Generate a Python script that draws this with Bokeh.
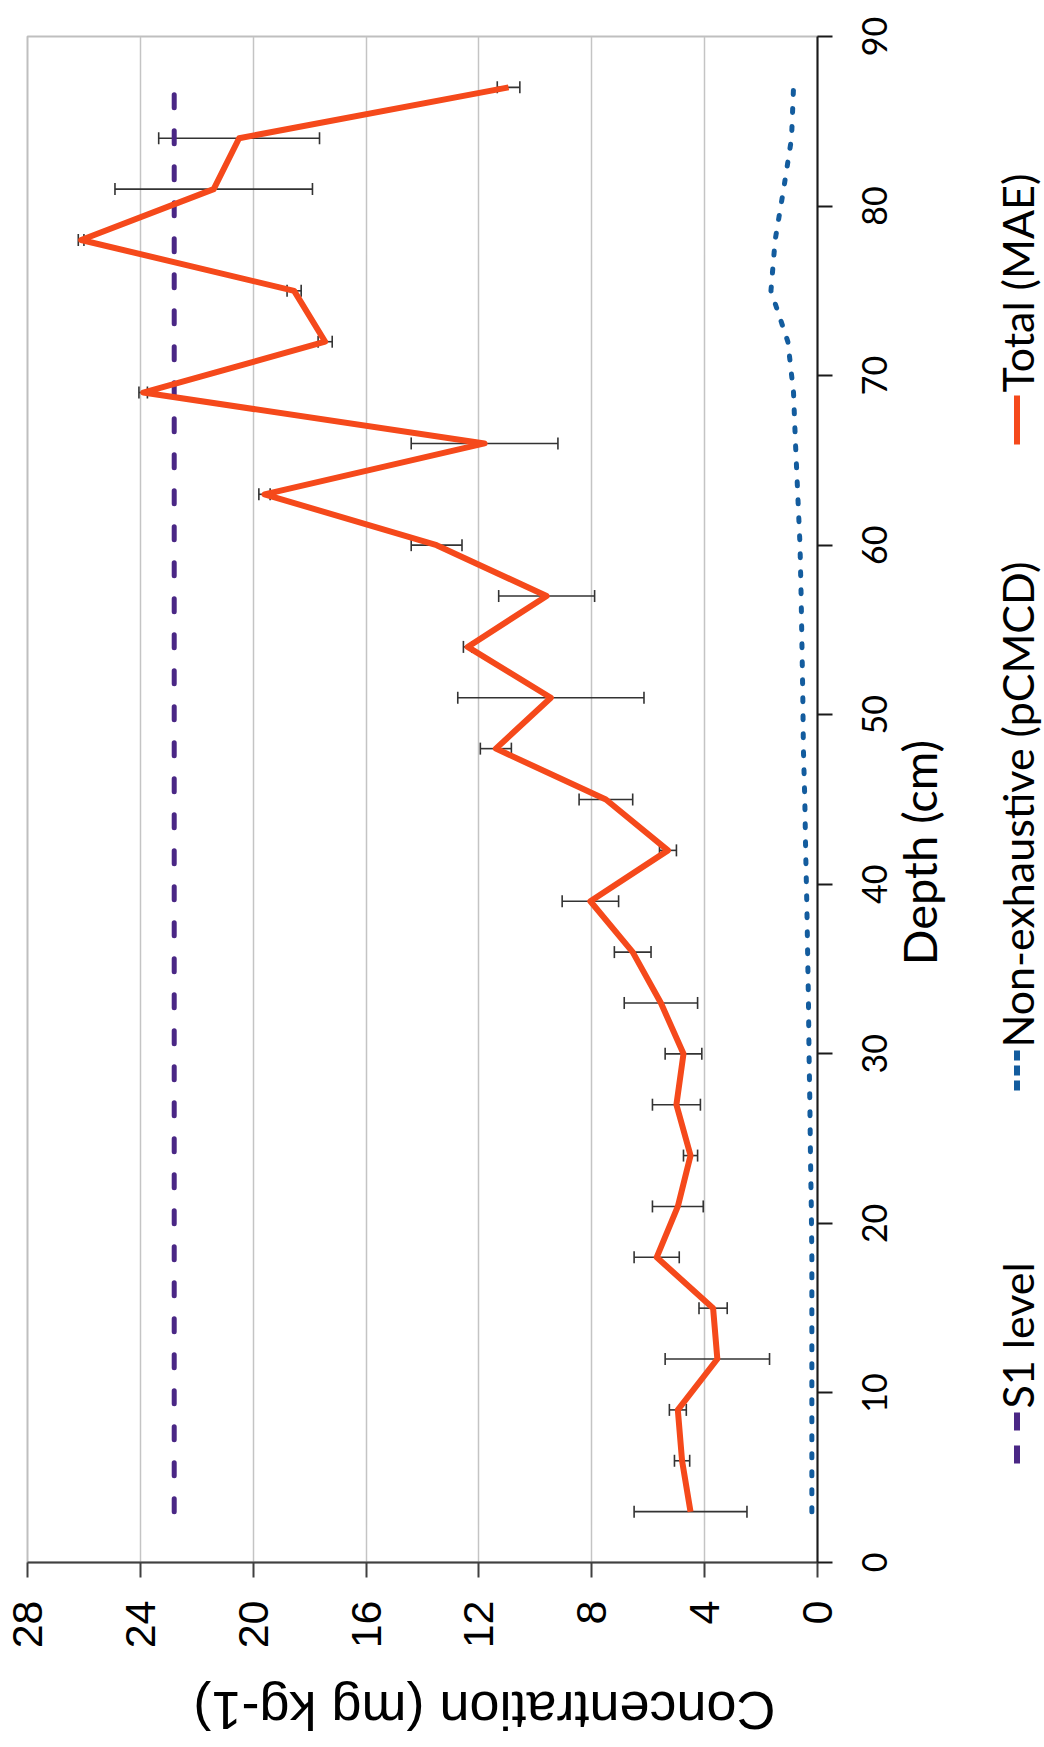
import math
from bokeh.plotting import figure
from bokeh.models import (Range1d, FixedTicker, Whisker, TeeHead, ColumnDataSource, Label)
from bokeh.core.properties import value
from bokeh.layouts import row, column
from bokeh.embed import file_html
from bokeh.resources import INLINE

# ---------------- data ----------------
depth = [3, 6, 9, 12, 15, 18, 21, 24, 27, 30, 33, 36, 39, 42, 45,
         48, 51, 54, 57, 60, 63, 66, 69, 72, 75, 78, 81, 84, 87]
total_mae = [4.5, 4.8, 4.95, 3.55, 3.7, 5.7, 4.95, 4.5, 5.0, 4.75, 5.55, 6.55, 8.05, 5.3, 7.5,
             11.4, 9.45, 12.4, 9.6, 13.5, 19.6, 11.8, 23.9, 17.45, 18.55, 26.1, 21.4, 20.5, 10.95]
total_err = [2.0, 0.27, 0.3, 1.85, 0.5, 0.8, 0.9, 0.25, 0.85, 0.65, 1.3, 0.65, 1.0, 0.3, 0.95,
             0.55, 3.3, 0.15, 1.7, 0.9, 0.2, 2.6, 0.15, 0.25, 0.25, 0.1, 3.5, 2.85, 0.4]
non_exhaustive = [0.2, 0.2, 0.2, 0.2, 0.2, 0.2, 0.22, 0.25, 0.27, 0.3, 0.32, 0.35, 0.38, 0.42, 0.45,
                  0.5, 0.52, 0.55, 0.58, 0.62, 0.7, 0.78, 0.85, 1.05, 1.65, 1.5, 1.2, 0.92, 0.85]
s1_level = [22.8, 22.8, 22.8, 22.8, 22.8, 22.8, 22.8, 22.8, 22.8, 22.8, 22.8, 22.8, 22.8, 22.8, 22.8,
            22.8, 22.8, 22.8, 22.8, 22.8, 22.8, 22.8, 22.8, 22.8, 22.8, 22.8, 22.8, 22.8, 22.8]
conc_ticks = [0, 4, 8, 12, 16, 20, 24, 28]
depth_ticks = [0, 10, 20, 30, 40, 50, 60, 70, 80, 90]
depth_tick_labels = ["0", "10", "20", "30", "40", "50", "60", "70", "80", "90"]

series_names = ["S1 level", "Non-exhaustive (pCMCD)", "Total (MAE)"]
x_title = "Concentration (mg kg-1)"
y_title = "Depth (cm)"

ORANGE = "#F5491B"
BLUE = "#135C9E"
PURPLE = "#4A2785"

src = ColumnDataSource(dict(
    depth=depth, total=total_mae, non=non_exhaustive, s1=s1_level,
    lower=[v - e for v, e in zip(total_mae, total_err)],
    upper=[v + e for v, e in zip(total_mae, total_err)],
))

# ---------------- layout constants (page pixels) ----------------
TOTAL_W, TOTAL_H = 1044, 1747
B_LEFT, B_TOP, B_RIGHT, B_BOTTOM = 27, 36, 32, 108
FRAME_W, FRAME_H = 790, 1526
MAIN_W = B_LEFT + FRAME_W + B_RIGHT
MAIN_H = B_TOP + FRAME_H + B_BOTTOM
Y0, Y1 = 0, 90

# ---------------- main plot ----------------
p = figure(width=MAIN_W, height=MAIN_H, x_range=Range1d(28, 0), y_range=Range1d(Y0, Y1),
           y_axis_location="right", toolbar_location=None, output_backend="svg",
           title=None, min_border_left=B_LEFT, min_border_top=B_TOP,
           min_border_right=B_RIGHT, min_border_bottom=B_BOTTOM)
p.background_fill_color = "white"
p.border_fill_color = "white"
p.outline_line_color = "#bfbfbf"
p.outline_line_width = 2

p.xgrid.ticker = FixedTicker(ticks=conc_ticks)
p.xgrid.grid_line_color = "#c4c4c4"
p.xgrid.grid_line_width = 1.5
p.ygrid.visible = False

xa = p.xaxis[0]
xa.ticker = FixedTicker(ticks=conc_ticks)
xa.major_label_orientation = math.pi / 2
xa.major_label_text_font = "Liberation Sans"
xa.major_label_text_font_size = "43px"
xa.major_label_text_color = "black"
xa.major_label_standoff = 23
xa.axis_line_color = "#404040"
xa.axis_line_width = 2
xa.major_tick_line_color = "#404040"
xa.major_tick_line_width = 2
xa.major_tick_out = 15
xa.major_tick_in = 0
xa.minor_tick_line_color = None

ya = p.yaxis[0]
ya.ticker = FixedTicker(ticks=depth_ticks)
ya.major_label_overrides = {t: "" for t in depth_ticks}
ya.major_label_text_font_size = "1px"
ya.major_label_standoff = 0
ya.axis_line_color = "#1a1a1a"
ya.axis_line_width = 2
ya.major_tick_line_color = "#1a1a1a"
ya.major_tick_line_width = 2
ya.major_tick_out = 15
ya.major_tick_in = 0
ya.minor_tick_line_color = None

wh = Whisker(base="depth", lower="lower", upper="upper", dimension="width", source=src,
             line_color="#333333", line_width=1.6, level="underlay",
             upper_head=TeeHead(size=12, line_color="#333333", line_width=1.6),
             lower_head=TeeHead(size=12, line_color="#333333", line_width=1.6))
p.add_layout(wh)

p.line(x="s1", y="depth", source=src, line_color=PURPLE, line_width=5,
       line_dash="13 23", line_cap="round")
p.line(x="non", y="depth", source=src, line_color=BLUE, line_width=5,
       line_dash="4 14", line_cap="round")
p.line(x="total", y="depth", source=src, line_color=ORANGE, line_width=6,
       line_join="round")


def blank(w, h, xr, yr):
    f = figure(width=w, height=h, x_range=Range1d(*xr), y_range=yr,
               x_axis_location=None, y_axis_location=None, toolbar_location=None,
               output_backend="svg", title=None, min_border=0)
    f.grid.visible = False
    f.outline_line_color = None
    f.background_fill_color = "white"
    f.border_fill_color = "white"
    return f


# ---------------- right strip: depth tick labels, depth title, legend ----------------
side = blank(TOTAL_W - MAIN_W, MAIN_H, (MAIN_W, TOTAL_W), Range1d(Y0, Y1))
unaligned = True
try:
    side.frame_align = False
except Exception:
    unaligned = False

k = FRAME_H / (Y1 - Y0)  # pixels per cm, same scale as the main frame
if unaligned:
    # side frame covers the whole strip: pad the depth range to keep the main scale
    side.y_range = Range1d(Y0 - B_BOTTOM / k, Y1 + B_TOP / k)
    side.extra_y_ranges = {"px": Range1d(MAIN_H, 0)}
else:
    # side frame is aligned with the main frame
    side.extra_y_ranges = {"px": Range1d(B_TOP + FRAME_H, B_TOP)}

side.text(x=[873.5] * len(depth_ticks), y=depth_ticks, text=depth_tick_labels,
          angle=math.pi / 2, text_align="center", text_baseline="middle",
          text_font=value("Lato"), text_font_size=value("34px"), text_color="black")

side.add_layout(Label(x=918, y=852, y_range_name="px", text=y_title, angle=math.pi / 2,
                      text_align="center", text_baseline="middle", text_font="Lato",
                      text_font_size="47px", text_color="black"))

LX = 1016.5
side.quad(left=[LX - 3, LX - 3], right=[LX + 3, LX + 3], top=[1445, 1412], bottom=[1463, 1430],
          fill_color=PURPLE, line_color=None, y_range_name="px")
side.quad(left=[LX - 3] * 3, right=[LX + 3] * 3, top=[1080, 1065, 1050], bottom=[1090, 1075, 1060],
          fill_color=BLUE, line_color=None, y_range_name="px")
side.quad(left=[LX - 3], right=[LX + 3], top=[395], bottom=[444],
          fill_color=ORANGE, line_color=None, y_range_name="px")
for name, y0 in zip(series_names, [1408, 1047, 392]):
    side.add_layout(Label(x=LX, y=y0, y_range_name="px", text=name, angle=math.pi / 2,
                          text_align="left", text_baseline="middle", text_font="Lato",
                          text_font_size="43px", text_color="black"))

# ---------------- bottom strip with concentration title ----------------
bottom = blank(TOTAL_W, TOTAL_H - MAIN_H, (0, TOTAL_W), Range1d(TOTAL_H, MAIN_H))
try:
    bottom.frame_align = False
except Exception:
    pass
bottom.add_layout(Label(x=484, y=1710, text=x_title, angle=math.pi, text_align="center",
                        text_baseline="middle", text_font="Liberation Sans",
                        text_font_size="54px", text_color="black"))

layout = column(row(p, side), bottom)
open("out.html", "w").write(file_html(layout, INLINE))
